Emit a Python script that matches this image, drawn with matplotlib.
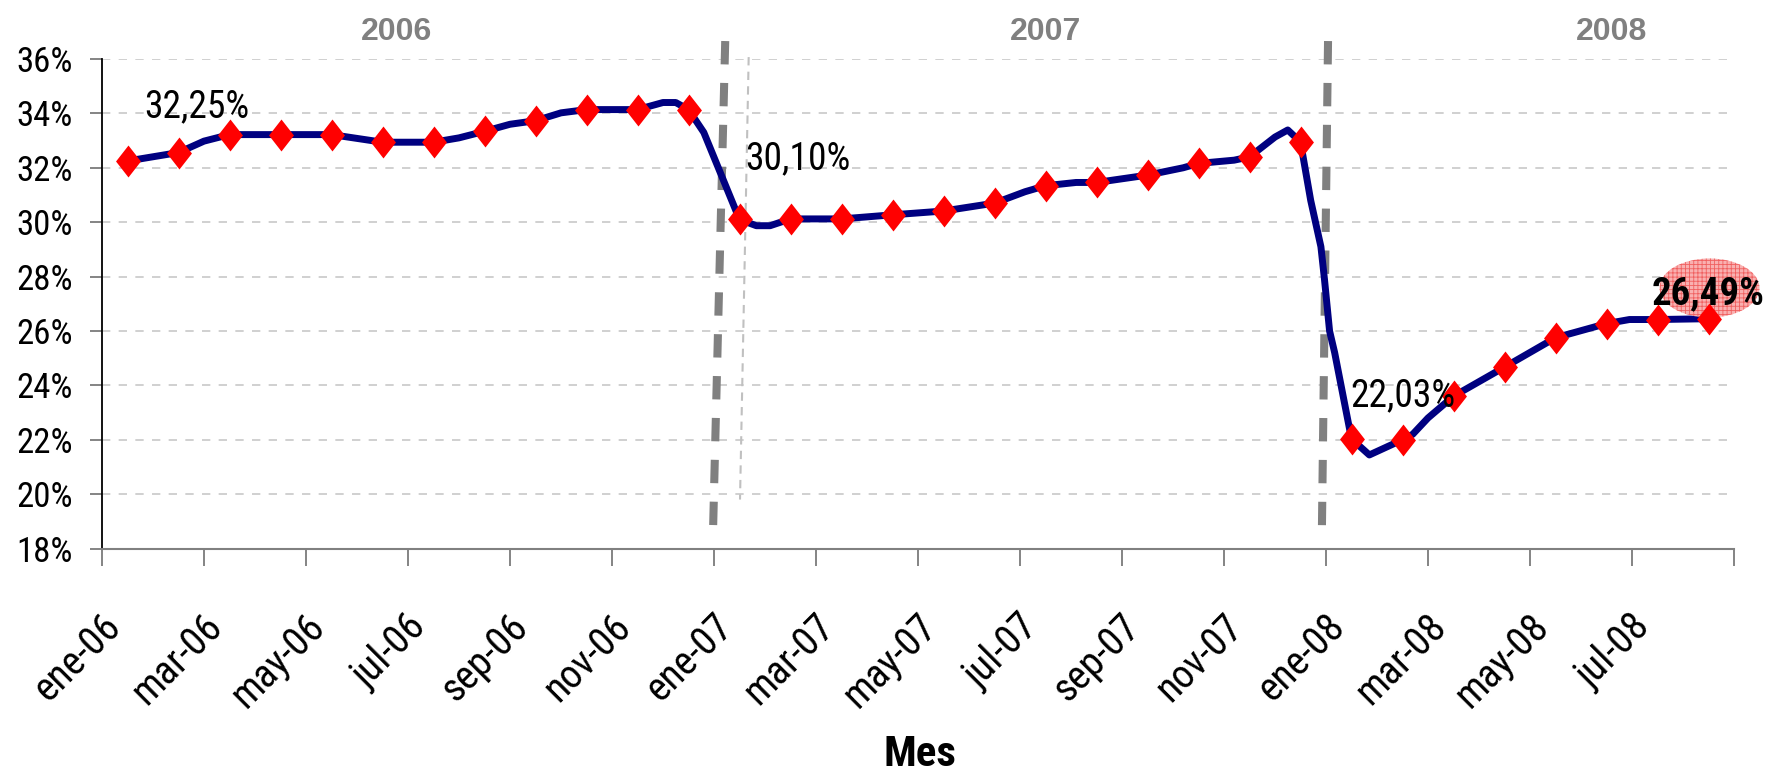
import numpy as np
import matplotlib
matplotlib.use("Agg")
import matplotlib.pyplot as plt
from matplotlib.patches import Ellipse
from matplotlib.transforms import ScaledTranslation, blended_transform_factory

# ---------------- data ----------------
tick_labels = ["ene-06", "mar-06", "may-06", "jul-06", "sep-06", "nov-06",
               "ene-07", "mar-07", "may-07", "jul-07", "sep-07", "nov-07",
               "ene-08", "mar-08", "may-08", "jul-08", ""]

# monthly values (one marker per month, ene-06 .. ago-08), in %
marker_vals = [32.25, 32.56, 33.22, 33.22, 33.22, 32.94, 32.94, 33.34, 33.73, 34.14, 34.14, 34.14,
               30.10, 30.12, 30.12, 30.27, 30.41, 30.70, 31.34, 31.46, 31.73, 32.16, 32.40, 32.95,
               22.03, 22.00, 23.60, 24.67, 25.75, 26.27, 26.42, 26.45]

# finer series for the line (time in months since start of ene-06)
line_pos = [0.5, 1.5, 2.0, 2.5, 3.5, 4.5, 5.5, 6.5, 7.0, 7.5, 8.0, 8.5, 9.0, 9.5, 10.5,
            11.0, 11.25, 11.5, 11.8, 12.5, 12.83, 13.1, 13.5, 14.5, 15.5, 16.5, 17.5,
            18.1, 18.5, 19.1, 19.5, 20.5, 21.2, 21.5, 22.2, 22.5, 23.0, 23.25, 23.5,
            23.7, 23.9, 23.97, 24.07, 24.17, 24.5, 24.85, 25.5, 25.7, 26.0, 26.5,
            27.5, 28.5, 29.5, 29.95, 30.5, 31.5]
line_vals = [32.25, 32.56, 32.98, 33.22, 33.22, 33.22, 32.94, 32.94, 33.10, 33.34, 33.60, 33.73, 34.02, 34.14, 34.14,
             34.40, 34.40, 34.14, 33.30, 30.10, 29.87, 29.87, 30.12, 30.12, 30.27, 30.41, 30.70,
             31.12, 31.34, 31.46, 31.46, 31.73, 32.00, 32.16, 32.28, 32.40, 33.13, 33.39, 32.95,
             30.80, 29.10, 27.90, 26.00, 25.20, 22.03, 21.44, 22.00, 22.20, 22.80, 23.60,
             24.67, 25.75, 26.27, 26.42, 26.42, 26.45]

# annotated values: (text, month position, baseline y, bold)
annotations = [("32,25%", 1.86, 33.86, False),
               ("30,10%", 13.64, 31.95, False),
               ("22,03%", 25.51, 23.23, False),
               ("26,49%", 31.50, 26.97, True)]

years = ["2006", "2007", "2008"]
year_pos = [5.77, 18.5, 29.6]

# year separators: (x_top, y_top, x_bottom, y_bottom)
separators = [(12.22, 36.66, 11.98, 18.57), (24.04, 36.66, 23.92, 18.75)]
thin_sep = (12.68, 36.07, 12.51, 19.8)

# ---------------- figure ----------------
W, H = 1777, 771
fig = plt.figure(figsize=(W / 100, H / 100), dpi=100)
ax = fig.add_axes([102 / W, 1 - 548.5 / H, (1734 - 102) / W, (548.5 - 59) / H])

narrow = ["Roboto Condensed", "Archivo Narrow", "DejaVu Sans"]
regular = ["Liberation Sans", "DejaVu Sans"]

ax.set_xlim(0, 32)
ax.set_ylim(18, 36)

# gridlines
ax.set_yticks(np.arange(18, 37, 2))
ax.set_yticklabels([f"{v}%" for v in range(18, 37, 2)], family=narrow, fontsize=25)
ax.yaxis.grid(True, color="#c8c8c8", linestyle=(0, (5, 5)), linewidth=1.2)
ax.set_axisbelow(True)

tick_pos = np.arange(0, 33, 2)
ax.set_xticks(tick_pos)
ax.set_xticklabels([])
# rotated category labels, offset like the original (right end slightly past the tick)
xlab_trans = blended_transform_factory(ax.transData, ax.transAxes) + \
    ScaledTranslation(0.12, -0.72, fig.dpi_scale_trans)
for xp, lab in zip(tick_pos, tick_labels):
    if lab:
        ax.text(xp, 0, lab, transform=xlab_trans, family=narrow, fontsize=28.5,
                rotation=45, ha="right", va="center", rotation_mode="anchor", clip_on=False)

ax.tick_params(axis="x", length=12, width=1.2, color="#707070", direction="out")
ax.tick_params(axis="y", length=9, width=1.2, color="#707070", pad=12, direction="out")

for s in ["top", "right"]:
    ax.spines[s].set_visible(False)
ax.spines["left"].set_color("black")
ax.spines["left"].set_linewidth(1.3)
ax.spines["bottom"].set_color("#808080")
ax.spines["bottom"].set_linewidth(1.5)

# separators
for xt, yt, xb, yb in separators:
    ax.plot([xt, xb], [yt, yb], color="#808080", linewidth=5.8, linestyle=(0, (2.9, 2.3)),
            solid_capstyle="butt", dash_capstyle="butt", clip_on=False, zorder=2)
ax.plot([thin_sep[0], thin_sep[2]], [thin_sep[1], thin_sep[3]], color="#c0c0c0",
        linewidth=1.5, linestyle=(0, (4, 3)), clip_on=False, zorder=2)

# line and markers
ax.plot(line_pos, line_vals, color="#000080", linewidth=5.0, solid_joinstyle="round", zorder=3)
diamond = [(0, 1), (0.78, 0), (0, -1), (-0.78, 0), (0, 1)]
ax.plot(np.arange(len(marker_vals)) + 0.5, marker_vals, linestyle="none", marker=diamond,
        markersize=23, color="#ff0000", markeredgewidth=0, zorder=4)

# highlight ellipse for last value
plt.rcParams["hatch.linewidth"] = 0.6
ell = Ellipse((31.52, 27.58), width=1.96, height=2.17, facecolor="#f9b0b0",
              edgecolor="#f06060", hatch="++++", linewidth=0, clip_on=False, zorder=3.5)
ax.add_patch(ell)

for txt, xp, yp, bold in annotations:
    ax.text(xp, yp, txt, ha="center", va="baseline", family=narrow,
            fontsize=28 if bold else 27, fontweight="bold" if bold else "normal", color="black",
            clip_on=False, zorder=5)

trans = blended_transform_factory(ax.transData, ax.transAxes)
for y, xp in zip(years, year_pos):
    ax.text(xp, 1.055, y, transform=trans, ha="center", va="center", family=regular,
            fontsize=23, fontweight="bold", color="#808080")

fig.text(920 / W, 1 - 754 / H, "Mes", ha="center", va="center", family=narrow,
         fontsize=31, fontweight="bold")

fig.savefig("out.png", dpi=100)
